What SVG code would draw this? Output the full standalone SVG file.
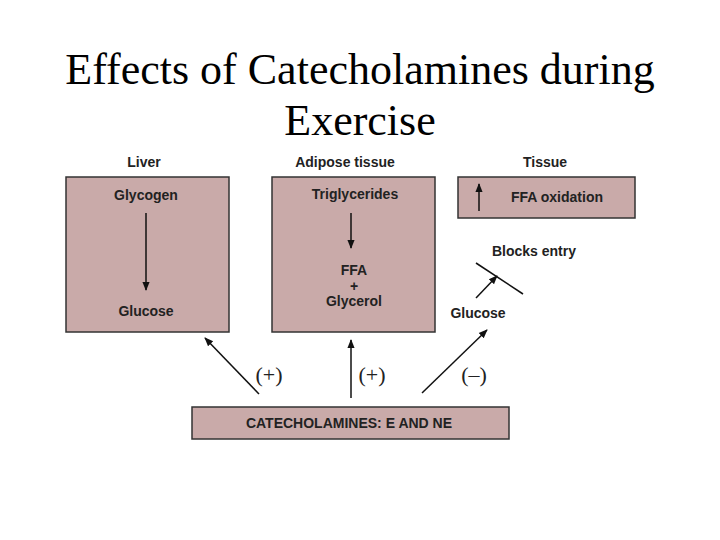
<svg xmlns="http://www.w3.org/2000/svg" width="720" height="540" viewBox="0 0 720 540">
<style>
.box{fill:#c9aaa9;stroke:#333;stroke-width:1.5}
.t{font-family:"Liberation Sans",Arial,sans-serif;font-weight:bold;font-size:14px;fill:#222;text-anchor:middle}
.s{font-family:"Liberation Serif","Times New Roman",serif;font-size:22px;fill:#222;text-anchor:middle}
.ln{stroke:#111;stroke-width:1.5;fill:none;marker-end:url(#ah)}
</style>
<defs><marker id="ah" viewBox="0 0 10 10" refX="9" refY="5" markerWidth="6" markerHeight="6" orient="auto" markerUnits="strokeWidth"><path d="M0,1 L10,5 L0,9 z" fill="#111"/></marker></defs>
<rect width="720" height="540" fill="#fff"/>
<text x="360" y="84" font-family="Liberation Serif,serif" font-size="44" text-anchor="middle" fill="#000">Effects of Catecholamines during</text>
<text x="360" y="135" font-family="Liberation Serif,serif" font-size="44" text-anchor="middle" fill="#000">Exercise</text>
<g id="liver"><text class="t" x="144" y="167">Liver</text><rect class="box" x="66" y="177" width="163" height="155"/><text class="t" x="146" y="200">Glycogen</text><text class="t" x="146" y="316">Glucose</text></g>
<g id="adipose"><text class="t" x="345" y="167">Adipose tissue</text><rect class="box" x="272" y="177" width="163" height="155"/><text class="t" x="355" y="199">Triglycerides</text><text class="t" x="354" y="275">FFA</text><text class="t" x="354" y="291">+</text><text class="t" x="354" y="306">Glycerol</text></g>
<g id="tissue"><text class="t" x="545" y="167">Tissue</text><rect class="box" x="458" y="177" width="177" height="41"/><text class="t" x="557" y="202">FFA oxidation</text></g>
<g id="cat"><rect class="box" x="192" y="407" width="317" height="32"/><text class="t" x="349" y="428">CATECHOLAMINES: E AND NE</text></g>
<g id="labels"><text class="t" x="534" y="256">Blocks entry</text><text class="t" x="478" y="318">Glucose</text>
<text class="s" x="269" y="382">(+)</text><text class="s" x="372" y="382">(+)</text><text class="s" x="474" y="382">(–)</text></g>
<g id="connectors">
<line class="ln" x1="146" y1="213" x2="146" y2="290"/>
<line class="ln" x1="351" y1="213" x2="351" y2="248"/>
<line class="ln" x1="479" y1="211" x2="479" y2="184"/>
<line class="ln" x1="259" y1="394" x2="205" y2="338"/>
<line class="ln" x1="351" y1="398" x2="351" y2="340"/>
<line class="ln" x1="422" y1="393" x2="487" y2="330"/>
<line class="ln" x1="476" y1="298" x2="497" y2="276"/>
<line x1="476" y1="263" x2="523" y2="294" stroke="#111" stroke-width="1.5"/>
</g>
</svg>
